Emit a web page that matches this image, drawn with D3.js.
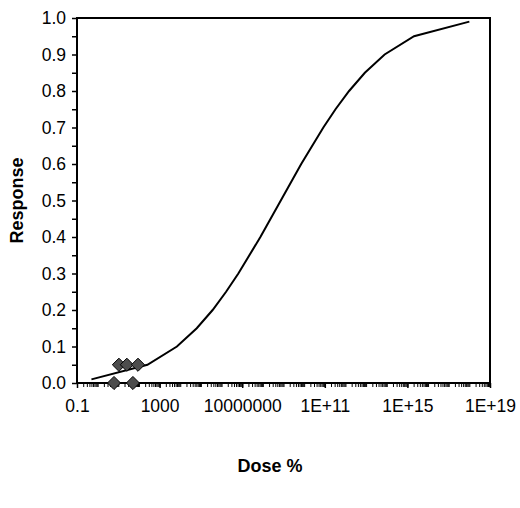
<!DOCTYPE html>
<html>
<head>
<meta charset="utf-8">
<script src="https://cdn.jsdelivr.net/npm/d3@7"></script>
<style>
  body { margin: 0; background: #fff; }
  svg { display: block; font-family: "Liberation Sans", Arial, sans-serif; }
</style>
</head>
<body>
<svg id="chart" width="520" height="508"></svg>
<script>
// fitted curve (dose, response)
const curveDose = [0.5, 257, 6900, 63000, 3.7e5, 1.66e6, 6.5e6, 7.6e7, 7.4e8, 7.2e9, 8.5e10, 3.3e11, 1.5e12, 8.7e12, 7.9e13, 2.1e15, 1e18];
const curveResp = [0.01, 0.05, 0.1, 0.15, 0.2, 0.25, 0.3, 0.4, 0.5, 0.6, 0.7, 0.75, 0.8, 0.85, 0.9, 0.95, 0.99];
// observed points
const obsDose = [6.2, 51, 10.7, 26, 90];
const obsResp = [0, 0, 0.05, 0.05, 0.05];
// axis labels
const xTicks = [0.1, 1000, 1e7, 1e11, 1e15, 1e19];
const xTickLabels = ["0.1", "1000", "10000000", "1E+11", "1E+15", "1E+19"];
const yTicks = [0, 0.1, 0.2, 0.3, 0.4, 0.5, 0.6, 0.7, 0.8, 0.9, 1.0];

const svg = d3.select("#chart");
const margin = {top: 18, right: 30, bottom: 125, left: 77};
const W = 520, H = 508;
const width = W - margin.left - margin.right;
const height = H - margin.top - margin.bottom;

const x = d3.scaleLog().domain([0.1, 1e19]).range([0, width]);
const y = d3.scaleLinear().domain([0, 1]).range([height, 0]);

const g = svg.append("g").attr("transform", "translate(" + margin.left + "," + margin.top + ")");

// minor ticks: every decade and 2..9 inside
let minor = [];
for (let e = -1; e < 19; e++) {
  for (let m = 1; m < 10; m++) minor.push(m * Math.pow(10, e));
}
minor.push(1e19);

g.append("g")
  .attr("transform", "translate(0," + height + ")")
  .call(d3.axisBottom(x).tickValues(minor).tickSize(4).tickFormat(""))
  .call(a => a.select(".domain").remove())
  .selectAll("line").attr("stroke", "#000").attr("stroke-width", 1);

g.append("g")
  .attr("transform", "translate(0," + height + ")")
  .call(d3.axisBottom(x).tickValues(xTicks).tickSize(5).tickPadding(12)
    .tickFormat((d, i) => xTickLabels[i]))
  .call(a => a.select(".domain").remove())
  .call(a => a.selectAll("line").attr("stroke", "#000").attr("stroke-width", 1.5))
  .call(a => a.selectAll("text").attr("font-size", 17.5).attr("fill", "#000"));

// y axis with minor ticks at 0.05
g.append("g")
  .call(d3.axisLeft(y).tickValues(d3.range(0.05, 1, 0.1)).tickSize(5).tickFormat(""))
  .call(a => a.select(".domain").remove())
  .selectAll("line").attr("stroke", "#000").attr("stroke-width", 1.5);

g.append("g")
  .call(d3.axisLeft(y).tickValues(yTicks).tickSize(5).tickPadding(6).tickFormat(d3.format(".1f")))
  .call(a => a.select(".domain").remove())
  .call(a => a.selectAll("line").attr("stroke", "#000").attr("stroke-width", 1.5))
  .call(a => a.selectAll("text").attr("font-size", 17.5).attr("fill", "#000"));

// plot frame
g.append("rect")
  .attr("x", 0).attr("y", 0).attr("width", width).attr("height", height)
  .attr("fill", "none").attr("stroke", "#000").attr("stroke-width", 2);

// curve
const line = d3.line().x((d, i) => x(curveDose[i])).y((d, i) => y(curveResp[i]));
g.append("path")
  .datum(curveDose)
  .attr("d", line)
  .attr("fill", "none")
  .attr("stroke", "#000")
  .attr("stroke-width", 2);

// observed diamonds
g.selectAll(".pt")
  .data(obsDose)
  .enter().append("path")
  .attr("class", "pt")
  .attr("d", d3.symbol().type(d3.symbolDiamond2).size(110))
  .attr("transform", (d, i) => "translate(" + x(d) + "," + y(obsResp[i]) + ")")
  .attr("fill", "#4d4d4d")
  .attr("stroke", "#000")
  .attr("stroke-width", 1);

// axis titles
svg.append("text")
  .attr("transform", "translate(23," + (margin.top + height / 2) + ") rotate(-90)")
  .attr("text-anchor", "middle")
  .attr("font-size", 18)
  .attr("font-weight", "bold")
  .text("Response");

svg.append("text")
  .attr("x", 270)
  .attr("y", 472)
  .attr("text-anchor", "middle")
  .attr("font-size", 18)
  .attr("font-weight", "bold")
  .text("Dose %");
</script>
</body>
</html>
